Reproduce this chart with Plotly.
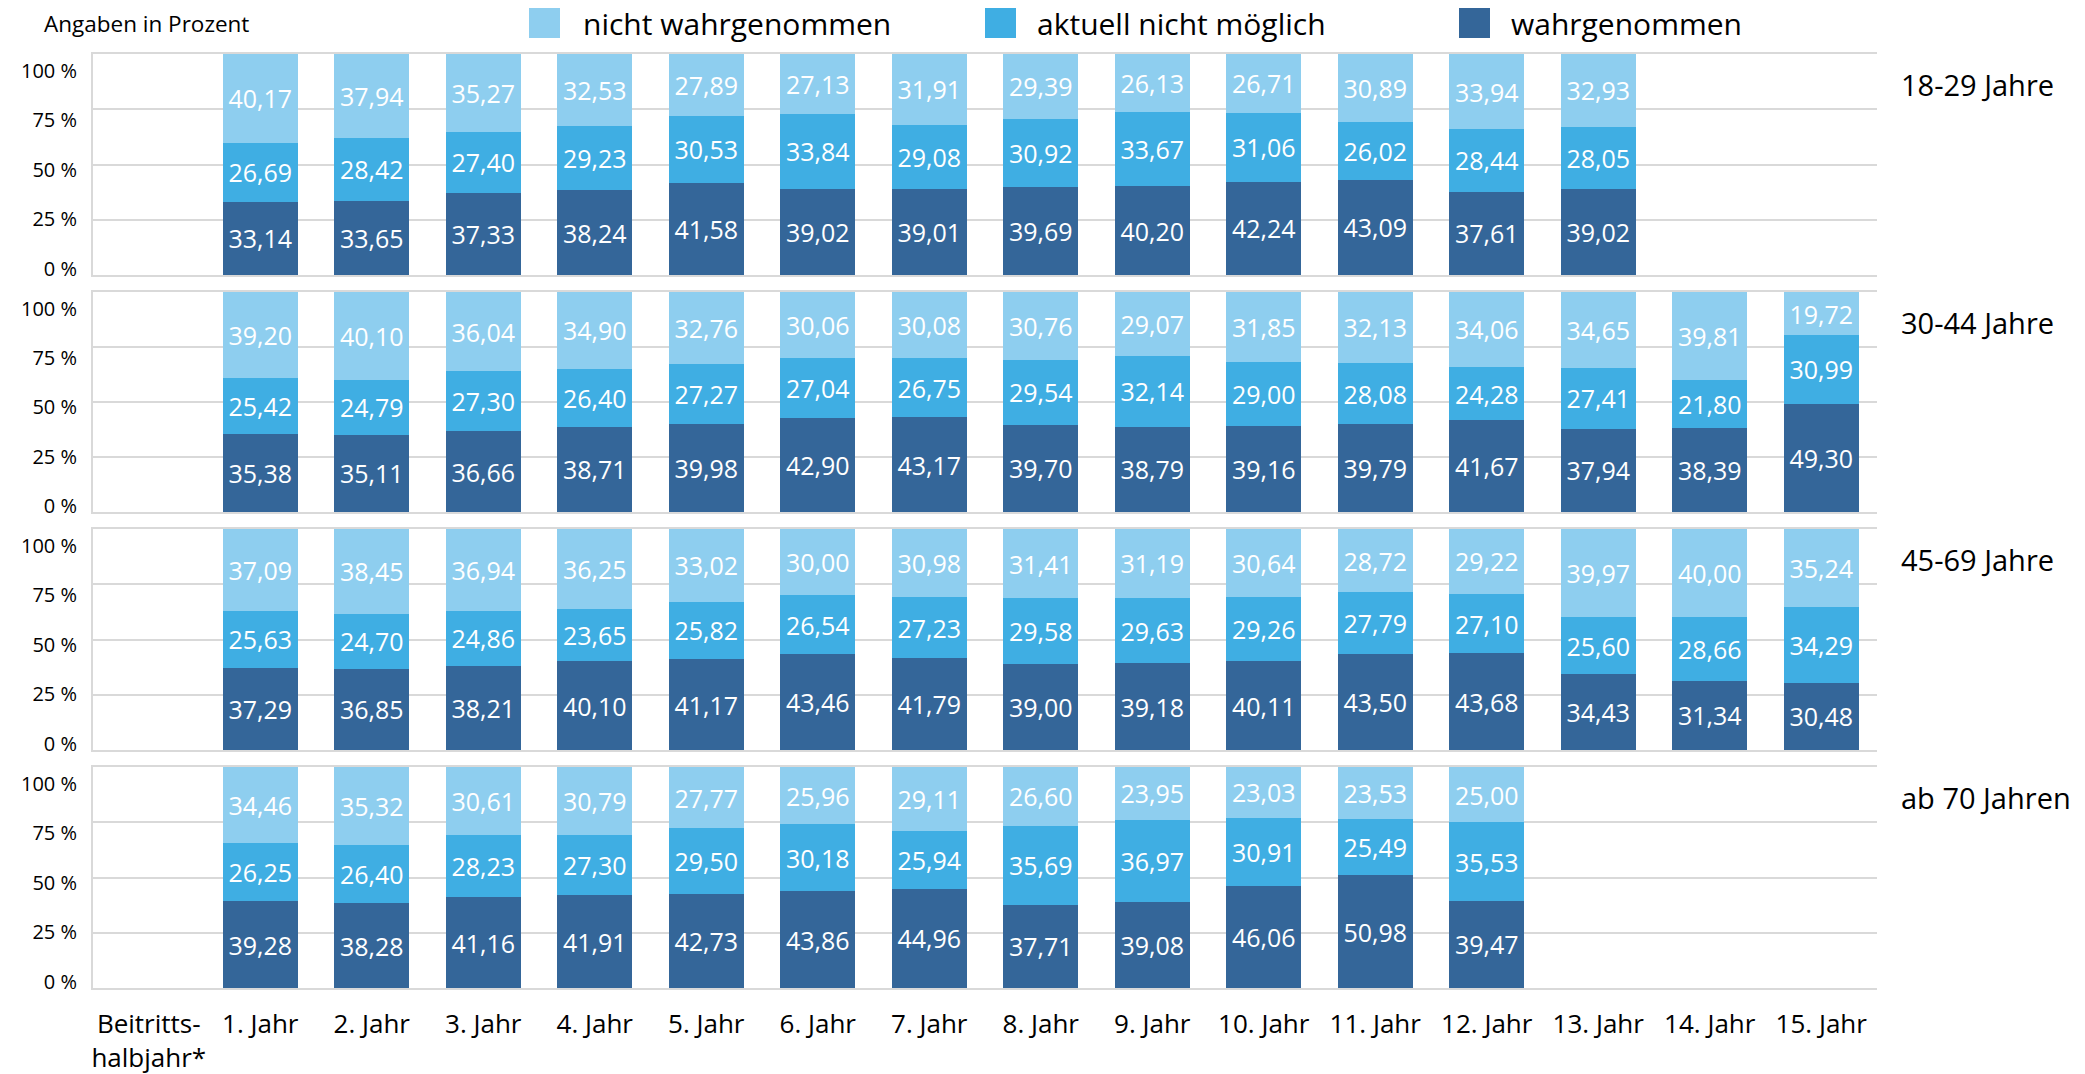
import plotly.graph_objects as go

# ---------------- data ----------------
categories = ["Beitritts-<br>halbjahr*", "1. Jahr", "2. Jahr", "3. Jahr", "4. Jahr", "5. Jahr",
              "6. Jahr", "7. Jahr", "8. Jahr", "9. Jahr", "10. Jahr", "11. Jahr", "12. Jahr",
              "13. Jahr", "14. Jahr", "15. Jahr"]
groups = ["18-29 Jahre", "30-44 Jahre", "45-69 Jahre", "ab 70 Jahren"]
series_names = ["wahrgenommen", "aktuell nicht möglich", "nicht wahrgenommen"]
y_tick_values = [0, 25, 50, 75, 100]
y_tick_labels = ["0 %", "25 %", "50 %", "75 %", "100 %"]

wahr_18_29 = [33.14, 33.65, 37.33, 38.24, 41.58, 39.02, 39.01, 39.69, 40.20, 42.24, 43.09, 37.61, 39.02]
akt_18_29 = [26.69, 28.42, 27.40, 29.23, 30.53, 33.84, 29.08, 30.92, 33.67, 31.06, 26.02, 28.44, 28.05]
nicht_18_29 = [40.17, 37.94, 35.27, 32.53, 27.89, 27.13, 31.91, 29.39, 26.13, 26.71, 30.89, 33.94, 32.93]

wahr_30_44 = [35.38, 35.11, 36.66, 38.71, 39.98, 42.90, 43.17, 39.70, 38.79, 39.16, 39.79, 41.67, 37.94, 38.39, 49.30]
akt_30_44 = [25.42, 24.79, 27.30, 26.40, 27.27, 27.04, 26.75, 29.54, 32.14, 29.00, 28.08, 24.28, 27.41, 21.80, 30.99]
nicht_30_44 = [39.20, 40.10, 36.04, 34.90, 32.76, 30.06, 30.08, 30.76, 29.07, 31.85, 32.13, 34.06, 34.65, 39.81, 19.72]

wahr_45_69 = [37.29, 36.85, 38.21, 40.10, 41.17, 43.46, 41.79, 39.00, 39.18, 40.11, 43.50, 43.68, 34.43, 31.34, 30.48]
akt_45_69 = [25.63, 24.70, 24.86, 23.65, 25.82, 26.54, 27.23, 29.58, 29.63, 29.26, 27.79, 27.10, 25.60, 28.66, 34.29]
nicht_45_69 = [37.09, 38.45, 36.94, 36.25, 33.02, 30.00, 30.98, 31.41, 31.19, 30.64, 28.72, 29.22, 39.97, 40.00, 35.24]

wahr_70 = [39.28, 38.28, 41.16, 41.91, 42.73, 43.86, 44.96, 37.71, 39.08, 46.06, 50.98, 39.47]
akt_70 = [26.25, 26.40, 28.23, 27.30, 29.50, 30.18, 25.94, 35.69, 36.97, 30.91, 25.49, 35.53]
nicht_70 = [34.46, 35.32, 30.61, 30.79, 27.77, 25.96, 29.11, 26.60, 23.95, 23.03, 23.53, 25.00]

panel_data = [
    (wahr_18_29, akt_18_29, nicht_18_29),
    (wahr_30_44, akt_30_44, nicht_30_44),
    (wahr_45_69, akt_45_69, nicht_45_69),
    (wahr_70, akt_70, nicht_70),
]

# ---------------- styles ----------------
W, H = 2085, 1074
FONT = "Open Sans"
colors = ["#346699", "#3FAEE3", "#8ECEEF"]
grid_col = "#d9d9d9"
x_left_px, x_right_px = 93, 1877
panel_px = [(54, 275), (292, 512), (529, 750), (767, 988)]
# the tick-label column of the reference is slightly compressed inside each panel
label_axis_range = [-3.0, 108.4]


def fmt(v):
    return f"{v:.2f}".replace(".", ",")


fig = go.Figure()
for p, series in enumerate(panel_data):
    ax = "" if p == 0 else str(p + 1)
    for s, vals in enumerate(series):
        xs = categories[1:1 + len(vals)]
        fig.add_trace(go.Bar(
            x=xs, y=vals, name=series_names[s],
            xaxis="x" + ax, yaxis="y" + ax,
            marker=dict(color=colors[s], line=dict(width=0)),
            text=[fmt(v) for v in vals], textposition="inside",
            insidetextanchor="middle", textangle=0, constraintext="none",
            textfont=dict(family=FONT, size=25, color="white"),
            showlegend=False, hoverinfo="skip",
        ))
    # empty helper trace so that the overlaid label axis gets drawn
    fig.add_trace(go.Scatter(x=[], y=[], xaxis="x" + ax, yaxis="y" + str(p + 5),
                             mode="markers", showlegend=False, hoverinfo="skip"))

layout = dict(
    width=W, height=H, margin=dict(l=0, r=0, t=0, b=0, pad=0),
    barmode="stack", bargap=0.33,
    paper_bgcolor="white", plot_bgcolor="white",
    font=dict(family=FONT, color="#000000"),
    showlegend=False,
)

xdom = [x_left_px / W, x_right_px / W]
for p, (top, bot) in enumerate(panel_px):
    sfx = "" if p == 0 else str(p + 1)
    ydom = [1 - bot / H, 1 - top / H]
    layout["xaxis" + sfx] = dict(
        domain=xdom, anchor="y" + sfx, type="category",
        categoryorder="array", categoryarray=categories,
        range=[-0.5, len(categories) - 0.5],
        showline=True, mirror=True, linecolor=grid_col, linewidth=2,
        showgrid=False, zeroline=False, layer="below traces",
        tickmode="array", tickvals=categories, ticktext=categories,
        showticklabels=(p == 3), ticks="", ticklabelstandoff=12,
        tickfont=dict(family=FONT, size=26, color="#000000"),
        automargin=False, fixedrange=True,
    )
    layout["yaxis" + sfx] = dict(
        domain=ydom, anchor="x" + sfx, range=[0, 100],
        tickmode="array", tickvals=y_tick_values,
        showgrid=True, gridcolor=grid_col, gridwidth=2,
        showline=True, linecolor=grid_col, linewidth=2, zeroline=False,
        layer="below traces", ticks="", showticklabels=False,
        automargin=False, fixedrange=True,
    )
    # label axis (overlay) carrying the percentage tick labels
    lab = str(p + 5)
    layout["yaxis" + lab] = dict(
        overlaying="y" + sfx, anchor="x" + sfx, side="left",
        range=label_axis_range,
        tickmode="array", tickvals=y_tick_values, ticktext=y_tick_labels,
        showgrid=False, showline=False, zeroline=False, ticks="",
        ticklabelstandoff=15, layer="below traces",
        tickfont=dict(family=FONT, size=20, color="#000000"),
        automargin=False, fixedrange=True,
    )

annotations = []
for p, g in enumerate(groups):
    sfx = "" if p == 0 else str(p + 1)
    annotations.append(dict(
        text=g, xref="paper", yref="y" + sfx + " domain", x=1899 / W, y=0.86,
        xanchor="left", yanchor="middle", showarrow=False,
        font=dict(family=FONT, size=29, color="#000000"),
    ))

annotations.append(dict(
    text="Angaben in Prozent", xref="paper", yref="paper", x=42 / W, y=1 - 24 / H,
    xanchor="left", yanchor="middle", showarrow=False,
    font=dict(family=FONT, size=22.5, color="#000000"),
))

# legend (drawn manually to reproduce the large swatches)
legend_items = [(series_names[2], colors[2], 529, 581),
                (series_names[1], colors[1], 985, 1035),
                (series_names[0], colors[0], 1459, 1509)]
shapes = []
for name, col, sx, tx in legend_items:
    shapes.append(dict(type="rect", xref="paper", yref="paper",
                       x0=sx / W, x1=(sx + 31) / W, y0=1 - 38 / H, y1=1 - 8 / H,
                       fillcolor=col, line=dict(width=0)))
    annotations.append(dict(
        text=name, xref="paper", yref="paper", x=tx / W, y=1 - 23 / H,
        xanchor="left", yanchor="middle", showarrow=False,
        font=dict(family=FONT, size=30, color="#000000"),
    ))

layout["annotations"] = annotations
layout["shapes"] = shapes
fig.update_layout(**layout)

fig.write_html("out.html", config={"displayModeBar": False},
               post_script="document.body.style.margin='0';document.body.style.overflow='hidden';")
